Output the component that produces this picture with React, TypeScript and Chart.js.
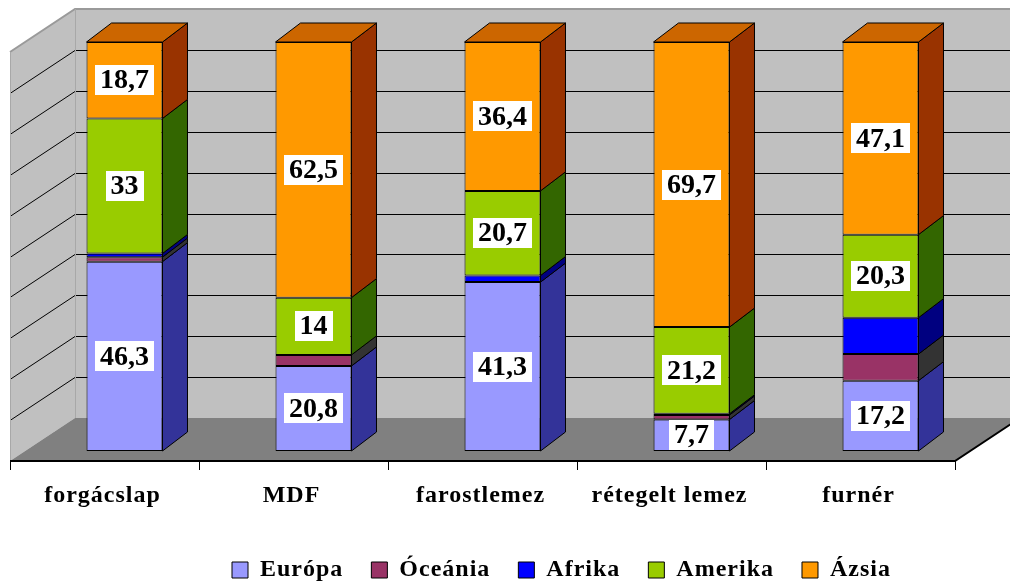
import React, { useEffect, useRef } from 'react';
import { Chart, registerables } from 'chart.js';

Chart.register(...registerables);

// ---- data ----
const categories = ['forgácslap', 'MDF', 'farostlemez', 'rétegelt lemez', 'furnér'];
const seriesNames = ['Európa', 'Óceánia', 'Afrika', 'Amerika', 'Ázsia'];
const europa = [46.3, 20.8, 41.3, 7.7, 17.2];
const oceania = [1.1, 2.7, 0, 1.1, 6.5];
const afrika = [0.9, 0, 1.6, 0.3, 8.9];
const amerika = [33, 14, 20.7, 21.2, 20.3];
const azsia = [18.7, 62.5, 36.4, 69.7, 47.1];
const labelledSeries = [0, 3, 4];

// ---- styles ----
const frontColors = ['#9999FF', '#993366', '#0000FF', '#99CC00', '#FF9900'];
const sideColors = ['#333399', '#333333', '#000080', '#336600', '#993300'];
const topColor = '#CC6600';
const FONT = '"Liberation Serif", "Times New Roman", serif';

const DEPTH_X = 25;
const DEPTH_Y = -19;
const WALL_X = 45;
const WALL_Y = -33;
const SIDE_X = -65;
const SIDE_Y = 43;

const fmt = (v: number) => String(v).replace('.', ',');

const spacingPlugin = {
  id: 'spacing',
  beforeUpdate(chart: any) {
    chart.ctx.letterSpacing = '1px';
  },
  beforeDraw(chart: any) {
    chart.ctx.letterSpacing = '1px';
  },
  afterLayout(chart: any) {
    const lg = chart.legend;
    if (lg) {
      lg.left += 59;
      lg.right += 59;
      lg.top += 9;
      lg.bottom += 9;
    }
  },
};

const wallsPlugin = {
  id: 'walls',
  beforeDatasetsDraw(chart: any) {
    const { ctx, chartArea: a, scales } = chart;
    const ys = scales.y;
    const bl = a.left + WALL_X;
    const br = a.right + WALL_X;
    const py = (v: number) => ys.getPixelForValue(v) + WALL_Y;
    const bTop = py(100);
    const bBot = py(0);
    ctx.save();
    ctx.letterSpacing = '0px';
    // back wall
    ctx.fillStyle = '#C0C0C0';
    ctx.fillRect(bl, bTop, br - bl, bBot - bTop);
    // left wall
    ctx.beginPath();
    ctx.moveTo(bl, bTop);
    ctx.lineTo(bl, bBot);
    ctx.lineTo(bl + SIDE_X, bBot + SIDE_Y);
    ctx.lineTo(bl + SIDE_X, bTop + SIDE_Y);
    ctx.closePath();
    ctx.fillStyle = '#C0C0C0';
    ctx.fill();
    // floor
    ctx.beginPath();
    ctx.moveTo(bl, bBot);
    ctx.lineTo(br, bBot);
    ctx.lineTo(br + SIDE_X, bBot + SIDE_Y);
    ctx.lineTo(bl + SIDE_X, bBot + SIDE_Y);
    ctx.closePath();
    ctx.fillStyle = '#808080';
    ctx.fill();
    // gridlines
    ctx.strokeStyle = '#000';
    ctx.lineWidth = 1;
    for (let v = 10; v < 100; v += 10) {
      const yy = Math.round(py(v)) + 0.5;
      ctx.beginPath();
      ctx.moveTo(bl, yy);
      ctx.lineTo(br, yy);
      ctx.moveTo(bl, yy);
      ctx.lineTo(bl + SIDE_X, yy + SIDE_Y);
      ctx.stroke();
    }
    // edges
    ctx.strokeStyle = '#9a9a9a';
    ctx.lineWidth = 2;
    ctx.beginPath();
    ctx.moveTo(bl + SIDE_X, bTop + SIDE_Y);
    ctx.lineTo(bl, bTop);
    ctx.lineTo(br, bTop);
    ctx.stroke();
    ctx.lineWidth = 1;
    ctx.strokeStyle = '#a8a8a8';
    ctx.beginPath();
    ctx.moveTo(bl + 0.5, bTop);
    ctx.lineTo(bl + 0.5, bBot);
    ctx.moveTo(bl + SIDE_X + 0.5, bTop + SIDE_Y);
    ctx.lineTo(bl + SIDE_X + 0.5, bBot + SIDE_Y);
    ctx.stroke();
    // floor front edge
    const fy = bBot + SIDE_Y;
    ctx.strokeStyle = '#000';
    ctx.lineWidth = 2;
    ctx.beginPath();
    ctx.moveTo(bl + SIDE_X, fy);
    ctx.lineTo(br + SIDE_X, fy);
    ctx.lineTo(br, bBot);
    ctx.stroke();
    ctx.lineWidth = 1;
    const n = categories.length;
    const fx0 = bl + SIDE_X;
    const fx1 = br + SIDE_X;
    ctx.beginPath();
    for (let k = 0; k <= n; k++) {
      const xx = Math.round(fx0 + ((fx1 - fx0) * k) / n) + 0.5;
      ctx.moveTo(xx, fy);
      ctx.lineTo(xx, fy + 9);
    }
    ctx.stroke();
    ctx.restore();
  },
};

const facesPlugin = {
  id: 'faces',
  afterDatasetsDraw(chart: any) {
    const { ctx } = chart;
    const nSets = chart.data.datasets.length;
    ctx.save();
    ctx.strokeStyle = '#000';
    ctx.lineWidth = 1;
    ctx.lineJoin = 'round';
    for (let i = 0; i < nSets; i++) {
      const meta = chart.getDatasetMeta(i);
      meta.data.forEach((bar: any, j: number) => {
        const { x, y, base, width } = bar.getProps(['x', 'y', 'base', 'width'], true);
        const left = x - width / 2;
        const right = x + width / 2;
        const top = Math.min(y, base);
        const bottom = Math.max(y, base);
        if (bottom - top < 0.05) return;
        ctx.beginPath();
        ctx.moveTo(right, bottom);
        ctx.lineTo(right + DEPTH_X, bottom + DEPTH_Y);
        ctx.lineTo(right + DEPTH_X, top + DEPTH_Y);
        ctx.lineTo(right, top);
        ctx.closePath();
        ctx.fillStyle = sideColors[i];
        ctx.fill();
        ctx.stroke();
        let isTop = true;
        for (let k = i + 1; k < nSets; k++) {
          if ((chart.data.datasets[k].data[j] as number) > 0) isTop = false;
        }
        if (isTop) {
          ctx.beginPath();
          ctx.moveTo(left, top);
          ctx.lineTo(left + DEPTH_X, top + DEPTH_Y);
          ctx.lineTo(right + DEPTH_X, top + DEPTH_Y);
          ctx.lineTo(right, top);
          ctx.closePath();
          ctx.fillStyle = topColor;
          ctx.fill();
          ctx.stroke();
        }
      });
    }
    ctx.restore();
  },
};

const labelsPlugin = {
  id: 'valueLabels',
  afterDatasetsDraw(chart: any) {
    const { ctx } = chart;
    ctx.save();
    ctx.letterSpacing = '0px';
    ctx.font = `bold 28px ${FONT}`;
    ctx.textAlign = 'center';
    ctx.textBaseline = 'middle';
    labelledSeries.forEach((i) => {
      const meta = chart.getDatasetMeta(i);
      meta.data.forEach((bar: any, j: number) => {
        const v = chart.data.datasets[i].data[j] as number;
        if (!v) return;
        const { x, y, base } = bar.getProps(['x', 'y', 'base'], true);
        const cy = (y + base) / 2;
        const text = fmt(v);
        const w = ctx.measureText(text).width + 10;
        const h = 30;
        ctx.fillStyle = '#FFFFFF';
        ctx.fillRect(Math.round(x - w / 2), Math.round(cy - h / 2), Math.round(w), h);
        ctx.fillStyle = '#000';
        ctx.fillText(text, x, cy + 1);
      });
    });
    ctx.restore();
  },
};

export default function App() {
  const ref = useRef<HTMLCanvasElement | null>(null);
  useEffect(() => {
    if (!ref.current) return;
    const series = [europa, oceania, afrika, amerika, azsia];
    const chart = new Chart(ref.current, {
      type: 'bar',
      data: {
        labels: categories,
        datasets: series.map((d, i) => ({
          label: seriesNames[i],
          data: d,
          backgroundColor: frontColors[i],
          borderColor: '#000',
          borderWidth: 1,
          borderSkipped: false,
          barPercentage: 0.402,
          categoryPercentage: 1,
        })),
      },
      options: {
        responsive: false,
        animation: false,
        events: [],
        layout: { padding: { left: 30, right: 35, top: 42, bottom: 0 } },
        scales: {
          x: {
            stacked: true,
            grid: { display: false, drawTicks: false },
            border: { display: false },
            ticks: {
              color: '#000',
              font: { family: FONT, size: 24, weight: 'bold' },
              padding: 30,
              labelOffset: -22,
              maxRotation: 0,
              autoSkip: false,
            },
            afterFit: (s: any) => {
              s.height = 70;
            },
          },
          y: {
            stacked: true,
            display: false,
            min: 0,
            max: 100,
          },
        },
        plugins: {
          legend: {
            position: 'bottom',
            labels: {
              boxWidth: 16,
              boxHeight: 16,
              padding: 28,
              color: '#000',
              font: { family: FONT, size: 24, weight: 'bold' },
            },
          },
          tooltip: { enabled: false },
        },
      },
      plugins: [spacingPlugin, wallsPlugin, facesPlugin, labelsPlugin],
    } as any);
    return () => chart.destroy();
  }, []);
  return (
    <div style={{ position: 'absolute', left: 0, top: 0, width: 1010, height: 583, background: '#fff' }}>
      <canvas ref={ref} width={1010} height={583} style={{ display: 'block' }} />
    </div>
  );
}
